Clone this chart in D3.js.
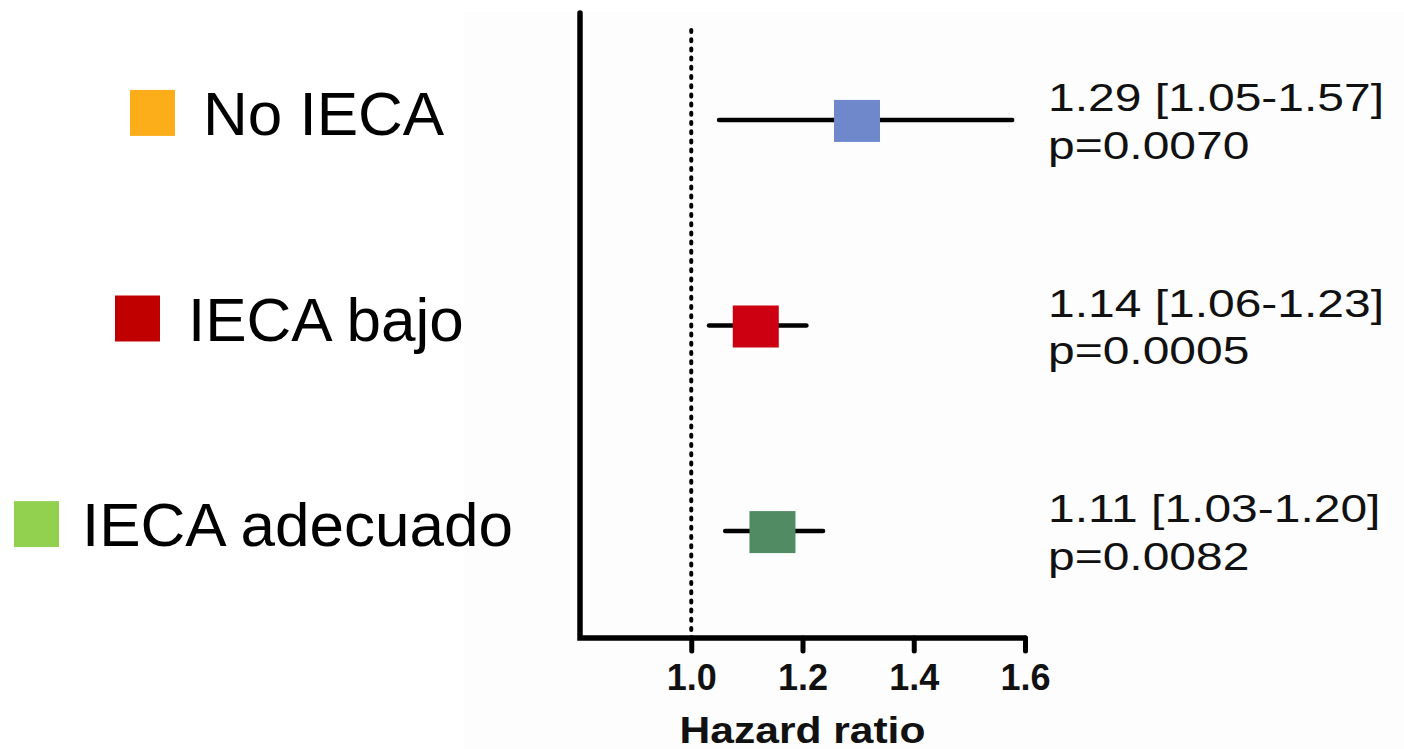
<!DOCTYPE html>
<html>
<head>
<meta charset="utf-8">
<script src="https://cdn.jsdelivr.net/npm/d3@7"></script>
<style>
  html, body { margin: 0; padding: 0; background: #fff; }
  svg { display: block; font-family: "Liberation Sans", Arial, sans-serif; }
</style>
</head>
<body>
<div class="chart"></div>
<script>
// groups, top to bottom
const categories = ["No IECA", "IECA bajo", "IECA adecuado"];
// hazard ratio and 95% CI as drawn in the picture
const hrValues = [1.298, 1.116, 1.146];
const ciLow = [1.050, 1.032, 1.061];
const ciHigh = [1.577, 1.207, 1.237];
// printed annotations
const hrLabels = ["1.29 [1.05-1.57]", "1.14 [1.06-1.23]", "1.11 [1.03-1.20]"];
const pLabels = ["p=0.0070", "p=0.0005", "p=0.0082"];
const xTicks = [1.0, 1.2, 1.4, 1.6];
const legendColors = ["#fbad1a", "#c00000", "#92d050"];
const markerColors = ["#6f88cb", "#cc0011", "#508b64"];

let width = 1404, height = 749;

let svg = d3.select(".chart")
	.append("svg")
	.attr("width", width)
	.attr("height", height);

// faint panel behind the plot
svg.append("rect")
	.attr("x", 464).attr("y", 12)
	.attr("width", width - 464).attr("height", height - 12)
	.attr("fill", "#fdfdfd");

let x = d3.scaleLinear().domain([0.8, 1.6]).range([580, 1025]);
let y = d3.scalePoint().domain(categories).range([13, 638]).padding(0.52);

let axisY = 638;

// x axis
let xAxis = svg.append("g")
	.attr("transform", "translate(0," + axisY + ")")
	.call(d3.axisBottom(x).tickValues(xTicks).tickFormat(d3.format(".1f")).tickSize(13).tickSizeOuter(0));
xAxis.attr("font-family", null).attr("font-size", null);
xAxis.select(".domain").remove();
xAxis.selectAll(".tick line")
	.attr("stroke", "#000")
	.attr("stroke-width", 5)
	.attr("stroke-linecap", "round");
xAxis.selectAll(".tick text")
	.attr("y", 52)
	.attr("dy", 0)
	.attr("fill", "#111")
	.style("font-family", "'Liberation Sans', Arial, sans-serif")
	.style("font-size", "36px")
	.style("font-weight", "bold");

// axis lines (L shape)
svg.append("path")
	.attr("d", "M" + x(0.8) + ",13 V" + axisY + " H" + x(1.6))
	.attr("fill", "none")
	.attr("stroke", "#000")
	.attr("stroke-width", 5.5)
	.attr("stroke-linecap", "round")
	.attr("stroke-linejoin", "miter");

// reference line at 1
svg.append("line")
	.attr("x1", x(1)).attr("x2", x(1))
	.attr("y1", 30).attr("y2", axisY)
	.attr("stroke", "#000")
	.attr("stroke-width", 4)
	.attr("stroke-dasharray", "2 7.2")
	.attr("stroke-linecap", "round");

svg.append("text")
	.attr("transform", "translate(" + x(1.2) + ",743) scale(1.15,1)")
	.attr("text-anchor", "middle")
	.style("font-size", "37px")
	.style("font-weight", "bold")
	.attr("fill", "#111")
	.text("Hazard ratio");

let rows = categories.map((c, i) => ({
	name: c, hr: hrValues[i], lo: ciLow[i], hi: ciHigh[i],
	label: hrLabels[i], p: pLabels[i], legend: legendColors[i], marker: markerColors[i]
}));

// CI whiskers
svg.selectAll(".ci")
	.data(rows)
	.enter().append("line")
	.attr("class", "ci")
	.attr("x1", d => x(d.lo))
	.attr("x2", d => x(d.hi))
	.attr("y1", d => y(d.name))
	.attr("y2", d => y(d.name))
	.attr("stroke", "#000")
	.attr("stroke-width", 4.5)
	.attr("stroke-linecap", "round");

// HR squares
let boxW = 46, boxH = 42;
svg.selectAll(".hr")
	.data(rows)
	.enter().append("rect")
	.attr("class", "hr")
	.attr("x", d => x(d.hr) - boxW / 2)
	.attr("y", d => y(d.name) - boxH / 2 + 1)
	.attr("width", boxW)
	.attr("height", boxH)
	.attr("fill", d => d.marker);

// annotations at right
let notes = svg.selectAll(".note")
	.data(rows)
	.enter().append("g")
	.attr("class", "note")
	.attr("transform", d => "translate(1048," + (y(d.name) - 9) + ") scale(1.23,1)");
notes.append("text")
	.style("font-size", "39px")
	.attr("fill", "#111")
	.text(d => d.label);
notes.append("text")
	.attr("y", 48)
	.style("font-size", "39px")
	.attr("fill", "#111")
	.text(d => d.p);

// legend at left
let legendX = [130, 115, 14];
let legend = svg.selectAll(".legend")
	.data(rows)
	.enter().append("g")
	.attr("class", "legend")
	.attr("transform", (d, i) => "translate(" + legendX[i] + "," + (y(d.name) - 7) + ")");
legend.append("rect")
	.attr("x", 0).attr("y", -23)
	.attr("width", 45).attr("height", 46)
	.attr("fill", d => d.legend);
legend.append("text")
	.attr("x", (d, i) => i == 2 ? 68 : 73)
	.attr("y", 22)
	.style("font-size", "62px")
	.attr("fill", "#000")
	.text(d => d.name);
</script>
</body>
</html>
